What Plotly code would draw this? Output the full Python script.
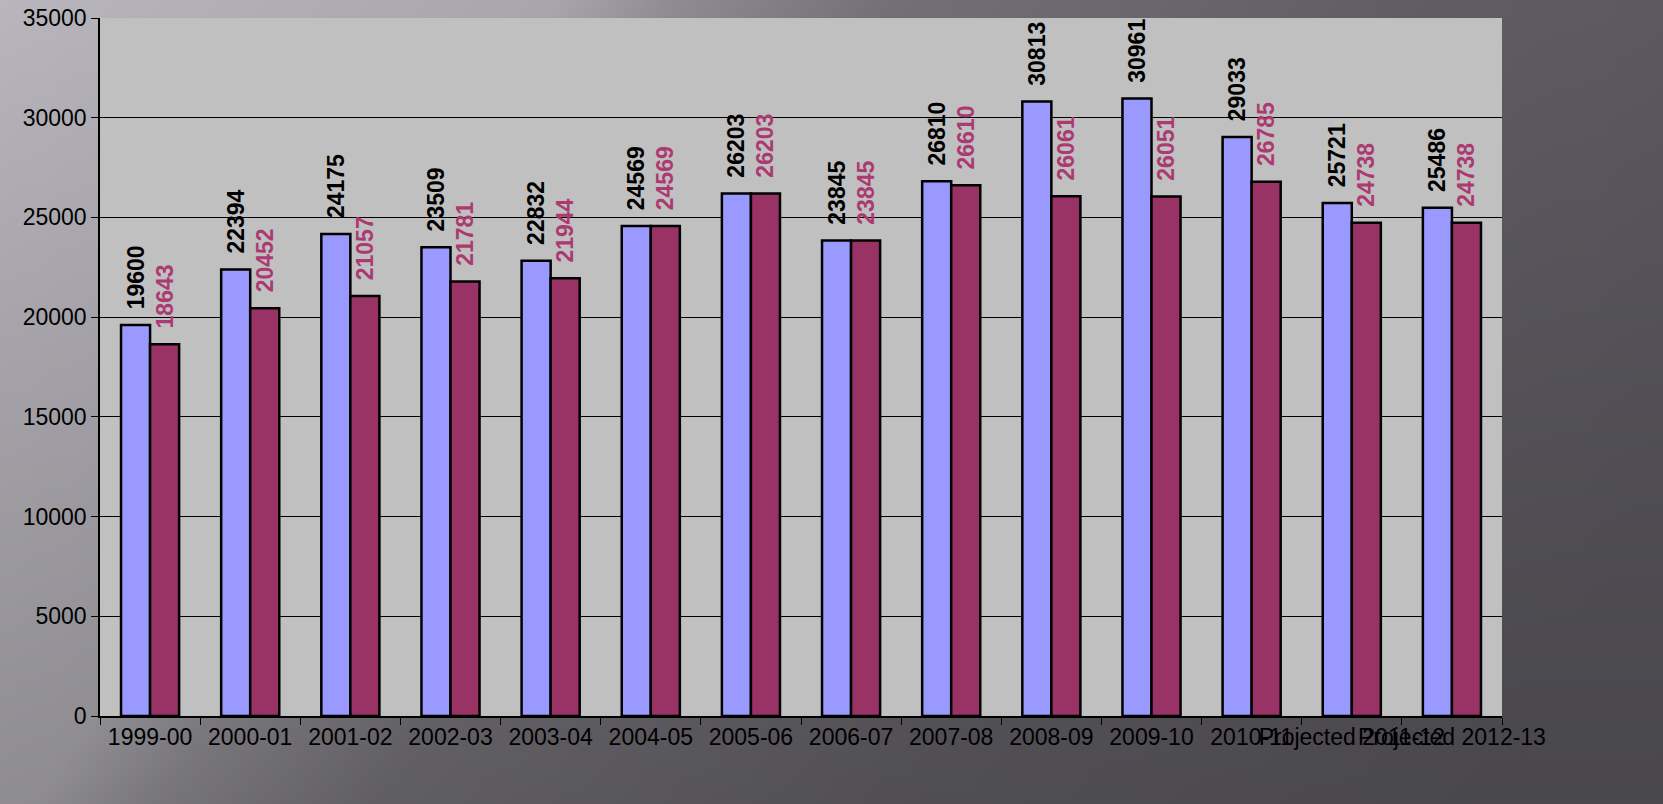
import base64
import plotly.graph_objects as go

categories = ["1999-00", "2000-01", "2001-02", "2002-03", "2003-04", "2004-05",
              "2005-06", "2006-07", "2007-08", "2008-09", "2009-10", "2010-11",
              "Projected 2011-12", "Projected 2012-13"]
series_a = [19600, 22394, 24175, 23509, 22832, 24569, 26203, 23845, 26810,
            30813, 30961, 29033, 25721, 25486]
series_b = [18643, 20452, 21057, 21781, 21944, 24569, 26203, 23845, 26610,
            26061, 26051, 26785, 24738, 24738]
y_ticks = [0, 5000, 10000, 15000, 20000, 25000, 30000, 35000]

svg = """<svg xmlns='http://www.w3.org/2000/svg' width='1663' height='804' viewBox='0 0 1663 804' preserveAspectRatio='none'>
<defs>
<linearGradient id='g' gradientUnits='userSpaceOnUse' x1='0' y1='0' x2='1400' y2='905'>
<stop offset='0' stop-color='#B8B6BC'/>
<stop offset='0.28' stop-color='#A8A6AC'/>
<stop offset='0.34' stop-color='#8E8C92'/>
<stop offset='0.45' stop-color='#727076'/>
<stop offset='0.72' stop-color='#5F5D63'/>
<stop offset='1' stop-color='#57555B'/>
</linearGradient>
<linearGradient id='v' x1='0' y1='0' x2='0' y2='1'>
<stop offset='0' stop-color='#000' stop-opacity='0'/>
<stop offset='1' stop-color='#000' stop-opacity='0.16'/>
</linearGradient>
</defs>
<rect width='1663' height='804' fill='url(#g)'/>
<rect width='1663' height='804' fill='url(#v)'/></svg>"""
bg_uri = "data:image/svg+xml;base64," + base64.b64encode(svg.encode()).decode()

label_font = dict(family="Liberation Sans, Arial", size=23, weight="bold")
pad = "\u00a0\u00a0"

fig = go.Figure()
fig.add_trace(go.Bar(
    x=categories, y=series_a, name="Series 1",
    marker=dict(color="#9999FF", line=dict(color="black", width=2.5)),
    text=[pad + str(v) for v in series_a], textposition="outside", textangle=-90,
    textfont=dict(color="black", **label_font),
    constraintext="none", cliponaxis=False,
))
fig.add_trace(go.Bar(
    x=categories, y=series_b, name="Series 2",
    marker=dict(color="#993366", line=dict(color="black", width=2.5)),
    text=[pad + str(v) for v in series_b], textposition="outside", textangle=-90,
    textfont=dict(color="#AC3A72", **label_font),
    constraintext="none", cliponaxis=False,
))

fig.update_layout(
    width=1663, height=804,
    margin=dict(l=100, r=161, t=18, b=88),
    paper_bgcolor="#6E6C72",
    plot_bgcolor="#C0C0C0",
    barmode="group", bargap=0.42, bargroupgap=0,
    showlegend=False,
    font=dict(family="Liberation Sans, Arial", size=23, color="black"),
    images=[dict(source=bg_uri, xref="paper", yref="paper",
                 x=-100 / 1402, y=1 + 18 / 698,
                 sizex=1663 / 1402, sizey=804 / 698,
                 xanchor="left", yanchor="top",
                 sizing="stretch", layer="below")],
    shapes=[dict(type="rect", xref="x domain", yref="y domain",
                 x0=0, x1=1, y0=0, y1=1, fillcolor="#C0C0C0",
                 line=dict(width=0), layer="below")],
)

fig.update_xaxes(
    type="category", tickangle=0, showline=True, linecolor="black", linewidth=1.5,
    ticks="outside", tickson="boundaries", ticklen=7, tickcolor="black",
    showgrid=False, tickfont=dict(size=23, color="black"),
    automargin=False,
)
fig.update_yaxes(
    range=[0, 35000], tickvals=y_ticks, ticktext=[str(v) for v in y_ticks],
    showline=True, linecolor="black", linewidth=1.5,
    ticks="outside", ticklen=7, tickcolor="black",
    showgrid=True, gridcolor="black", gridwidth=1,
    tickfont=dict(size=23, color="black"), zeroline=False, automargin=False,
)

fig.write_html(
    "out.html",
    config={"displayModeBar": False},
    post_script="document.body.style.margin='0';document.body.style.overflow='hidden';",
)
